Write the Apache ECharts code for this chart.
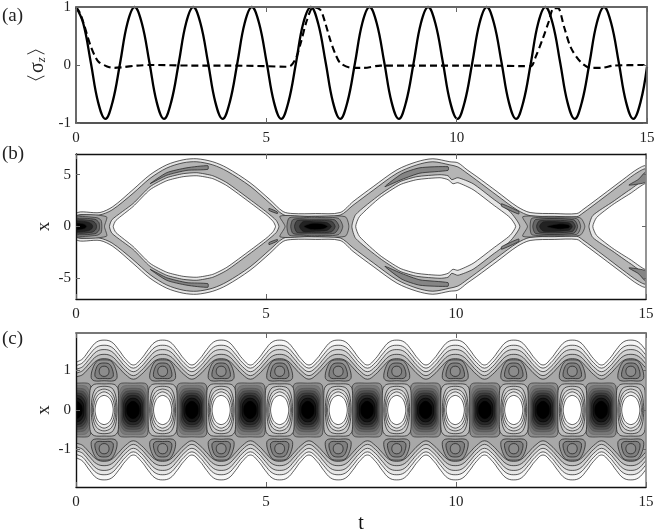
<!DOCTYPE html>
<html><head><meta charset="utf-8">
<style>html,body{margin:0;padding:0;background:#fff}#c{width:654px;height:530px;filter:blur(.45px)}</style>
<script src="https://cdn.jsdelivr.net/npm/echarts@6/dist/echarts.min.js"></script>
</head><body><div id="c"></div>
<script>
// ---------- panel (a): <sigma_z>(t) ----------
const solidT = [0,.19,.39,.58,.77,.96,1.16,1.35,1.54,1.73,1.93,2.12,2.31,2.5,2.7,2.89,3.08,3.27,3.47,3.66,3.85,4.04,4.24,4.43,4.62,4.81,5.01,5.2,5.39,5.58,5.78,5.97,6.17,6.36,6.56,6.75,6.94,7.13,7.33,7.52,7.71,7.9,8.1,8.29,8.48,8.67,8.87,9.06,9.25,9.44,9.64,9.83,10.02,10.21,10.41,10.6,10.79,10.98,11.18,11.37,11.56,11.75,11.95,12.14,12.33,12.52,12.72,12.91,13.1,13.29,13.49,13.68,13.87,14.06,14.26,14.45,14.64,14.83,15];
const solidV = [1,.72,.04,-.64,-.93,-.64,.04,.72,1,.72,.04,-.64,-.93,-.64,.04,.72,1,.72,.04,-.64,-.93,-.64,.04,.72,1,.72,.04,-.64,-.93,-.64,.04,.72,1,.72,.04,-.64,-.93,-.64,.04,.72,1,.72,.04,-.64,-.93,-.64,.04,.72,1,.72,.04,-.64,-.93,-.64,.04,.72,1,.72,.04,-.64,-.93,-.64,.04,.72,1,.72,.04,-.64,-.93,-.64,.04,.72,1,.72,.04,-.64,-.93,-.64,-.03];
const dashT = [0,.1,.2,.3,.4,.5,.6,.8,1,1.2,1.6,2,3,4,5,5.5,5.63,5.78,5.9,6.07,6.24,6.42,6.55,6.68,6.82,6.95,7.26,7.55,8,9,10,11,11.7,11.95,12.08,12.26,12.42,12.55,12.66,12.82,13,13.26,13.53,13.79,14.13,15];
const dashV = [1,.9,.72,.5,.3,.15,.05,-.02,-.05,-.04,-.01,0,-.01,-.01,-.02,-.03,-.02,.12,.37,.78,1,.95,.72,.43,.18,.03,-.05,-.05,-.01,-.01,-.01,-.01,-.02,-.02,.15,.45,.75,.98,.98,.66,.3,.05,-.05,-.05,-.01,0];

// ---------- panel (b): contour outlines, upper half [t,x]; the plot is mirrored about x=0 ----------
const bOuter = [[0,1.25],[.63,1.35],[.97,1.92],[1.5,3.56],[1.95,5],[2.39,5.96],[2.82,6.44],[3.18,6.54],[3.6,6.25],[3.97,5.67],[4.58,4.23],[5.1,2.6],[5.45,1.44],[5.71,1.25],[6.3,1.25],[6.95,1.35],[7.29,2.4],[7.82,3.85],[8.45,5.48],[8.97,6.25],[9.39,6.54],[9.84,6.25],[10.05,6.15],[10.29,5.48],[10.55,4.81],[11.08,3.37],[11.61,1.92],[11.95,1.35],[12.6,1.25],[13.18,1.25],[13.34,1.63],[13.87,3.08],[14.39,4.52],[14.79,5.58],[15,5.8]];
const bInner = [[0,1],[.6,1.1],[.95,1.6],[1.5,3.2],[1.95,4.65],[2.39,5.65],[2.82,6.15],[3.18,6.25],[3.6,5.95],[3.97,5.35],[4.58,3.9],[5.1,2.25],[5.45,1.15],[5.71,1],[6.3,1],[6.95,1.1],[7.29,2.05],[7.82,3.5],[8.45,5.15],[8.97,5.95],[9.39,6.25],[9.84,5.95],[10.05,5.75],[10.29,5.15],[10.55,4.45],[11.08,3],[11.61,1.6],[11.95,1.05],[12.6,.98],[13.18,.95],[13.34,1.3],[13.87,2.75],[14.39,4.2],[14.79,5.25],[15,5.5]];
const bRims = [
  [[.88,0],[.95,.67],[1.5,2.21],[1.95,3.85],[2.39,4.71],[2.82,5.1],[3.18,5.19],[3.6,4.9],[3.97,4.23],[4.58,2.6],[5.03,1.35],[5.27,.58],[5.34,0]],
  [[7.26,0],[7.36,1.15],[8,3.08],[8.53,4.33],[8.97,4.81],[9.58,5],[9.79,4.9],[9.89,4.52],[10.05,4.71],[10.45,4.13],[10.97,2.69],[11.42,1.44],[11.68,0]],
  [[13.5,0],[13.6,1.06],[14.13,2.4],[14.58,3.56],[15.03,4.52]]
];
const bHoles = [
  [[.98,0],[1.05,.58],[1.5,1.92],[1.95,3.56],[2.39,4.42],[2.82,4.81],[3.18,4.9],[3.6,4.62],[3.97,3.94],[4.58,2.31],[5.03,1.06],[5.19,.48],[5.25,0]],
  [[7.36,0],[7.46,.96],[8,2.79],[8.53,4.04],[8.97,4.52],[9.58,4.71],[9.79,4.52],[9.92,4.13],[10.05,4.23],[10.45,3.56],[10.97,2.12],[11.42,.87],[11.57,0]],
  [[13.6,0],[13.7,.87],[14.13,2.12],[14.58,3.17],[15.03,4.13]]
];
const bStrips = [
  [[1.95,4.13],[2.39,5.2],[2.92,5.67],[3.47,5.87],[3.47,5.52],[2.92,5.42],[2.39,4.95]],
  [[8.13,3.85],[8.58,5.1],[9.05,5.67],[9.79,5.77],[9.79,5.42],[9.05,5.15],[8.58,4.55]],
  [[5.08,1.75],[5.3,1.4],[5.3,1.25],[5.08,1.55]],
  [[11.2,2.2],[11.65,1.45],[11.65,1.2],[11.2,1.95]],
  [[14.55,4],[14.8,4.55],[15,5.3],[15,4.3],[14.8,4.1]]
];
const bBlobLevels = [
  [[[0,.98],[.8,.95],[.75,0]], [[5.5,0],[5.37,1],[6.2,.95],[7.08,.95],[7.18,0]], [[11.88,0],[11.76,.95],[12.5,.9],[13.26,.85],[13.39,0]]],
  [[[0,.85],[.55,.85],[.66,.6],[.68,0]], [[5.55,0],[5.62,.85],[6.2,.85],[6.9,.8],[7.02,0]], [[11.95,0],[12,.8],[12.5,.8],[13.18,.75],[13.28,0]]],
  [[[0,.7],[.5,.7],[.6,.4],[.62,0]], [[5.65,0],[5.72,.7],[6.2,.7],[6.8,.65],[6.92,0]], [[12.02,0],[12.1,.68],[13.1,.65],[13.2,0]]],
  [[[0,.58],[.42,.55],[.52,.3],[.54,0]], [[5.75,0],[5.82,.58],[6.2,.58],[6.72,.52],[6.82,0]], [[12.12,0],[12.2,.55],[13.05,.5],[13.14,0]]],
  [[[0,.48],[.32,.42],[.42,.2],[.44,0]], [[5.88,0],[5.98,.48],[6.3,.45],[6.6,.38],[6.72,0]], [[12.2,0],[12.3,.45],[12.98,.35],[13.06,0]]],
  [[[0,.3],[.22,.22],[.28,0]], [[6,0],[6.2,.3],[6.5,.25],[6.62,0]], [[12.4,0],[12.7,.25],[12.95,.18],[13,0]]]
];
const bBlobFills = ['#a6a6a6','#8a8a8a','#666666','#444444','#222222','#000000'];

const crestTimes = [.74,2.28,3.82,5.36,6.9,8.44,9.98,11.52,13.06,14.6];
const darkTimes = [0,1.5,3.05,4.58,6.1,7.66,9.2,10.76,12.29,13.82];
const waveDt = [-.77,-.56,-.38,-.2,0,.2,.38,.56];
const waveLevels = [
  [1.14,1.3,1.53,1.72,1.77,1.72,1.53,1.3],
  [1.06,1.2,1.41,1.59,1.64,1.59,1.41,1.2],
  [.97,1.1,1.3,1.48,1.53,1.48,1.3,1.1],
  [.87,1,1.19,1.36,1.41,1.36,1.19,1],
  [.78,.9,1.08,1.25,1.3,1.25,1.08,.9]
];
const waveFills = ['#f6f6f6','#e6e6e6','#d2d2d2','#bebebe','#a8a8a8'];
const darkLevels = [
  [[0,.68],[.3,.68],[.38,.62],[.4,.4],[.4,0]],
  [[0,.62],[.27,.6],[.36,.42],[.37,0]],
  [[0,.55],[.23,.52],[.33,.36],[.34,0]],
  [[0,.49],[.2,.46],[.3,.3],[.31,0]],
  [[0,.43],[.17,.4],[.27,.26],[.28,0]],
  [[0,.37],[.14,.34],[.24,.2],[.25,0]],
  [[0,.3],[.11,.27],[.2,.14],[.21,0]],
  [[0,.22],[.08,.19],[.15,.1],[.165,0]]
];
const darkFills = ['#8c8c8c','#787878','#646464','#505050','#3c3c3c','#282828','#141414','#000000'];
const darkStrokes = ['#222222','#646464','#505050','#3c3c3c','#282828','#141414','#000000','#000000'];
const ovalLevels = [
  [[0,.66],[.26,.65],[.36,.55],[.38,.3],[.38,0]],
  [[0,.6],[.2,.56],[.3,.38],[.34,0]],
  [[0,.53],[.17,.47],[.27,.3],[.31,0]],
  [[0,.46],[.15,.39],[.24,.24],[.28,0]],
  [[0,.37],[.12,.32],[.2,.2],[.24,0]]
];
const ovalFills = ['#bcbcbc','#cccccc','#dcdcdc','#ececec','#ffffff'];
const lobeLevels = [
  [[0,1.27],[.18,1.24],[.3,1.05],[.34,.82],[.26,.74],[0,.74]],
  [[0,1.19],[.14,1.16],[.22,1.02],[.24,.86],[.17,.8],[0,.8]],
  [[0,1.11],[.09,1.08],[.13,.98],[.09,.88],[0,.85]]
];
const lobeFills = ['#949494','#808080','#8c8c8c'];

// ---------- tick labels ----------
const tTicks = [0,5,10,15];
const aTicks = [-1,0,1];
const bTicks = [-5,0,5];
const cTicks = [-1,0,1];

// ---------- shape assembly ----------
const mirrorX = top => top.concat(top.slice().reverse().filter(p => p[1] !== 0).map(p => [p[0], -p[1]]));
const mirrorT = q => {
  const right = q.concat(q.slice().reverse().filter(p => p[1] !== 0).map(p => [p[0], -p[1]]));
  const left = right.slice().reverse().filter(p => p[0] !== 0).map(p => [-p[0], p[1]]);
  return right.concat(left);
};
const shift = (pts, dt) => pts.map(p => [p[0] + dt, p[1]]);
const flipX = pts => pts.map(p => [p[0], -p[1]]);
const mk = (pts, fill, smooth = .35, lw = .7, stroke = '#1a1a1a') => ({pts, fill, smooth, lw, stroke});

const bShapes = [mk(mirrorX(bOuter), '#e6e6e6', .3), mk(mirrorX(bInner), '#b5b5b5', .3)];
bRims.forEach(r => bShapes.push(mk(mirrorX(r), '#e6e6e6', .2)));
bHoles.forEach(h => bShapes.push(mk(mirrorX(h), '#ffffff', .2)));
bStrips.forEach(s => { bShapes.push(mk(s, '#858585', .2)); bShapes.push(mk(flipX(s), '#858585', .2)); });
bBlobLevels.forEach((lv, i) => lv.forEach(b => bShapes.push(mk(mirrorX(b), bBlobFills[i], .25, .6))));

const cShapes = [];
waveLevels.forEach((lv, i) => {
  const top = [];
  crestTimes.forEach(c => waveDt.forEach((d, j) => top.push([c + d, lv[j]])));
  top.push([15.4, lv[0]]);
  cShapes.push(mk(mirrorX(top), waveFills[i], .4));
});
darkLevels.forEach((lv, i) => darkTimes.forEach(c => cShapes.push(mk(shift(mirrorT(lv), c), darkFills[i], .3, .6, darkStrokes[i]))));
crestTimes.forEach(c => ovalLevels.forEach((lv, i) => cShapes.push(mk(shift(mirrorT(lv), c), ovalFills[i], .3, .7))));
crestTimes.forEach(c => lobeLevels.forEach((lv, i) => {
  const half = lv.concat(lv.slice(1, -1).reverse().map(p => [-p[0], p[1]]));
  const o = shift(half, c);
  cShapes.push(mk(o, lobeFills[i], .35));
  cShapes.push(mk(flipX(o), lobeFills[i], .35));
}));

const contour = (idx, shapes) => ({
  type: 'custom', xAxisIndex: idx, yAxisIndex: idx, coordinateSystem: 'cartesian2d',
  clip: true, silent: true, animation: false,
  data: shapes.map(s => s.pts[0]),
  renderItem: (p, api) => {
    const s = shapes[p.dataIndex];
    return {type: 'polygon',
      shape: {points: s.pts.map(q => api.coord(q)), smooth: s.smooth},
      style: {fill: s.fill, stroke: s.stroke, lineWidth: s.lw}};
  }
});

const font = '"Liberation Serif","Times New Roman",serif';
const label = {fontFamily: font, fontSize: 15, color: '#222'};
const xA = (g, pos, show, col, w, extra = {}) => Object.assign({
  type: 'value', gridIndex: g, position: pos, min: tTicks[0], max: tTicks[3], interval: tTicks[1], z: 10,
  splitLine: {show: false},
  axisLine: {show: true, onZero: false, lineStyle: {color: col, width: w}},
  axisTick: {show: true, inside: true, length: 5, lineStyle: {color: '#666', width: 1}},
  axisLabel: show ? Object.assign({margin: 8, showMinLabel: true, showMaxLabel: true, hideOverlap: false}, label) : {show: false}
}, extra);
const yA = (g, pos, show, col, w, min, max, ticks, extra = {}) => Object.assign({
  type: 'value', gridIndex: g, position: pos, min, max, z: 10,
  splitLine: {show: false},
  axisLine: {show: true, onZero: false, lineStyle: {color: col, width: w}},
  axisTick: {show: true, inside: true, length: 4, lineStyle: {color: '#666', width: 1}, customValues: ticks},
  axisLabel: show ? Object.assign({margin: 5, customValues: ticks, hideOverlap: false}, label) : {show: false, customValues: ticks}
}, extra);
const yName = {nameLocation: 'middle', nameGap: 22, nameMoveOverlap: false, nameTextStyle: {fontFamily: font, fontSize: 19, color: '#222'}};

const chart = echarts.init(document.getElementById('c'), null, {renderer: 'canvas'});
chart.setOption({
  animation: false, backgroundColor: '#fff',
  grid: [
    {left: 76, top: 7, width: 571, height: 116, outerBoundsMode: 'none'},
    {left: 76, top: 154, width: 570, height: 145, outerBoundsMode: 'none'},
    {left: 76, top: 333, width: 570, height: 154, outerBoundsMode: 'none'}
  ],
  xAxis: [
    xA(0, 'bottom', true, '#555', 1.8), xA(1, 'bottom', true, '#111', 1.4),
    xA(2, 'bottom', true, '#111', 1.4, {name: 't', nameLocation: 'middle', nameGap: 27, nameMoveOverlap: false, nameTextStyle: {fontFamily: font, fontSize: 20, color: '#111'}}),
    xA(0, 'top', false, '#666', 1.8), xA(1, 'top', false, '#111', 1.4), xA(2, 'top', false, '#777', 1.8)
  ],
  yAxis: [
    yA(0, 'left', true, '#444', 1.6, -1, 1, aTicks, {name: '{a|〈σ}{b|z}{a|〉}', nameLocation: 'middle', nameGap: 28, nameMoveOverlap: false, nameTextStyle: {rich: {a: {fontFamily: font, fontSize: 20, color: '#222'}, b: {fontFamily: font, fontSize: 13, fontStyle: 'italic', color: '#222', verticalAlign: 'bottom'}}}}),
    yA(1, 'left', true, '#111', 1.4, -7, 7, bTicks, Object.assign({name: 'x'}, yName)),
    yA(2, 'left', true, '#111', 1.4, -1.95, 1.95, cTicks, Object.assign({name: 'x'}, yName)),
    yA(0, 'right', false, '#666', 1.8, -1, 1, aTicks), yA(1, 'right', false, '#888', 1.8, -7, 7, bTicks), yA(2, 'right', false, '#888', 1.6, -1.95, 1.95, cTicks)
  ],
  graphic: [
    {type: 'text', left: 2, top: 7, style: {text: '(a)', fontFamily: font, fontSize: 19, fill: '#222'}},
    {type: 'text', left: 2, top: 145, style: {text: '(b)', fontFamily: font, fontSize: 19, fill: '#222'}},
    {type: 'text', left: 2, top: 330, style: {text: '(c)', fontFamily: font, fontSize: 19, fill: '#222'}}
  ],
  series: [
    {type: 'line', xAxisIndex: 0, yAxisIndex: 0, smooth: .4, symbol: 'none', data: solidT.map((t, i) => [t, solidV[i]]), lineStyle: {color: '#000', width: 2.3}, clip: false, animation: false},
    {type: 'line', xAxisIndex: 0, yAxisIndex: 0, smooth: .3, symbol: 'none', data: dashT.map((t, i) => [t, dashV[i]]), lineStyle: {color: '#000', width: 2.1, type: [7, 4]}, clip: false, animation: false},
    contour(1, bShapes),
    contour(2, cShapes)
  ]
});
</script></body></html>
